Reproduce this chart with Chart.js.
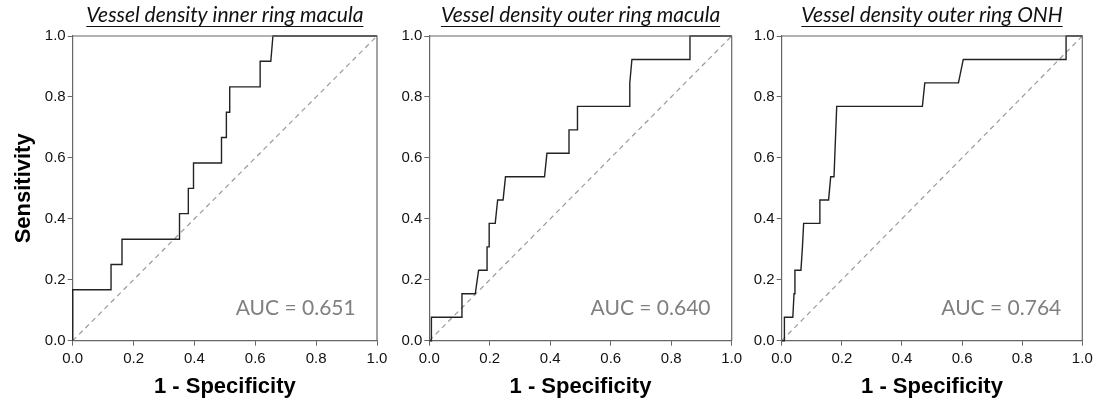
<!DOCTYPE html>
<html>
<head>
<meta charset="utf-8">
<script src="https://cdn.jsdelivr.net/npm/chart.js@4.4.0/dist/chart.umd.min.js"></script>
<style>
    body { margin: 0; background: #fff; }
    .panel { position: absolute; top: 0; height: 400px; }
</style>
</head>
<body>
<div class="panel" style="left:0;width:390px"><canvas id="roc1"></canvas></div>
<div class="panel" style="left:390px;width:354px"><canvas id="roc2"></canvas></div>
<div class="panel" style="left:744px;width:352px"><canvas id="roc3"></canvas></div>
<script>
// panel titles and AUC values
const titles = [
    'Vessel density inner ring macula',
    'Vessel density outer ring macula',
    'Vessel density outer ring ONH'
];
const aucLabels = ['AUC = 0.651', 'AUC = 0.640', 'AUC = 0.764'];
const tickValues = [0, 0.2, 0.4, 0.6, 0.8, 1.0];

// ROC curves (1 - specificity, sensitivity)
const fpr1 = [0, 0, 0.126, 0.126, 0.162, 0.162, 0.351, 0.351, 0.380, 0.380, 0.397, 0.397,
    0.489, 0.489, 0.505, 0.505, 0.516, 0.516, 0.616, 0.616, 0.651, 0.658, 1];
const tpr1 = [0, 0.167, 0.167, 0.25, 0.25, 0.333, 0.333, 0.417, 0.417, 0.5, 0.5, 0.583,
    0.583, 0.667, 0.667, 0.75, 0.75, 0.833, 0.833, 0.917, 0.917, 1, 1];

const fpr2 = [0, 0.007, 0.007, 0.108, 0.108, 0.152, 0.163, 0.191, 0.191, 0.198, 0.198, 0.218,
    0.226, 0.244, 0.252, 0.381, 0.389, 0.462, 0.462, 0.490, 0.490, 0.663, 0.663, 0.670,
    0.862, 0.862, 1];
const tpr2 = [0, 0, 0.077, 0.077, 0.154, 0.154, 0.231, 0.231, 0.308, 0.308, 0.385, 0.385,
    0.462, 0.462, 0.538, 0.538, 0.615, 0.615, 0.692, 0.692, 0.769, 0.769, 0.846, 0.923,
    0.923, 1, 1];

const fpr3 = [0, 0.009, 0.009, 0.037, 0.041, 0.044, 0.064, 0.069, 0.073, 0.127, 0.127, 0.156,
    0.163, 0.174, 0.183, 0.468, 0.476, 0.588, 0.604, 0.946, 0.946, 1];
const tpr3 = [0, 0, 0.077, 0.077, 0.154, 0.231, 0.231, 0.308, 0.385, 0.385, 0.462, 0.462,
    0.538, 0.538, 0.769, 0.769, 0.846, 0.846, 0.923, 0.923, 1, 1];

const curves = [[fpr1, tpr1], [fpr2, tpr2], [fpr3, tpr3]];

// axis widths so the three plot boxes line up like the original
const yAxisWidths = [72.7, 39.3, 37.7];
const rightPads = [13, 12.3, 13.7];

const toPoints = (xs, ys) => xs.map((x, i) => ({ x: x, y: ys[i] }));

// frame, underlined title and AUC text
const rocDecor = {
    id: 'rocDecor',
    afterDraw(chart, args, opts) {
        const ctx = chart.ctx;
        const a = chart.chartArea;
        const sx = chart.scales.x, sy = chart.scales.y;
        ctx.save();
        ctx.strokeStyle = '#666';
        ctx.lineWidth = 1.2;
        ctx.beginPath();
        ctx.moveTo(a.left, a.top);
        ctx.lineTo(a.right, a.top);
        ctx.lineTo(a.right, a.bottom);
        ctx.stroke();

        ctx.fillStyle = '#111';
        ctx.font = 'italic 21px Lato';
        ctx.textAlign = 'center';
        ctx.textBaseline = 'alphabetic';
        const cx = (a.left + a.right) / 2;
        ctx.fillText(opts.title, cx, 22);
        const w = ctx.measureText(opts.title).width;
        ctx.strokeStyle = '#111';
        ctx.lineWidth = 1;
        ctx.beginPath();
        ctx.moveTo(cx - w / 2, 26.5);
        ctx.lineTo(cx + w / 2, 26.5);
        ctx.stroke();

        ctx.fillStyle = '#808080';
        ctx.font = '21px Lato';
        ctx.textAlign = 'right';
        ctx.fillText(opts.auc, sx.getPixelForValue(0.93), sy.getPixelForValue(0.084));
        ctx.restore();
    }
};

titles.forEach((t, i) => {
    const ctx = document.getElementById('roc' + (i + 1)).getContext('2d');
    new Chart(ctx, {
        type: 'scatter',
        data: {
            datasets: [{
                data: toPoints(curves[i][0], curves[i][1]),
                showLine: true,
                borderColor: '#222',
                borderWidth: 1.4,
                pointRadius: 0,
                tension: 0,
                clip: 3
            }, {
                data: toPoints([0, 1], [0, 1]),
                showLine: true,
                borderColor: '#9a9a9a',
                borderWidth: 1.2,
                borderDash: [5, 4],
                pointRadius: 0,
                clip: 3
            }]
        },
        options: {
            responsive: true,
            maintainAspectRatio: false,
            animation: false,
            layout: {
                padding: { top: 36, right: rightPads[i], bottom: 0, left: 0 }
            },
            scales: {
                x: {
                    type: 'linear',
                    min: 0,
                    max: 1,
                    afterBuildTicks: (s) => { s.ticks = tickValues.map(v => ({ value: v })); },
                    afterFit: (s) => {
                        s.height = 59.3;
                        s.paddingLeft = 0;
                        s.paddingRight = 0;
                    },
                    border: { display: true, color: '#666', width: 1.2 },
                    grid: { drawOnChartArea: false, tickLength: 5, tickColor: '#666' },
                    ticks: {
                        padding: 4,
                        color: '#111',
                        font: { family: 'Liberation Sans', size: 15 },
                        callback: (v) => v.toFixed(1),
                        maxRotation: 0,
                        autoSkip: false
                    },
                    title: {
                        display: true,
                        text: '1 - Specificity',
                        color: '#000',
                        font: { family: 'Liberation Sans', size: 22, weight: 'bold' },
                        padding: { top: 0, bottom: 0 }
                    }
                },
                y: {
                    type: 'linear',
                    min: 0,
                    max: 1,
                    afterBuildTicks: (s) => { s.ticks = tickValues.map(v => ({ value: v })); },
                    afterFit: (s) => {
                        s.width = yAxisWidths[i];
                        s.paddingTop = 0;
                        s.paddingBottom = 0;
                    },
                    border: { display: true, color: '#666', width: 1.2 },
                    grid: { drawOnChartArea: false, tickLength: 5, tickColor: '#666' },
                    ticks: {
                        padding: 2,
                        color: '#111',
                        font: { family: 'Liberation Sans', size: 15 },
                        callback: (v) => v.toFixed(1),
                        autoSkip: false
                    },
                    title: {
                        display: i === 0,
                        text: 'Sensitivity',
                        color: '#000',
                        font: { family: 'Liberation Sans', size: 22, weight: 'bold' },
                        padding: { top: 11, bottom: 0 }
                    }
                }
            },
            plugins: {
                legend: { display: false },
                tooltip: { enabled: false },
                rocDecor: { title: t, auc: aucLabels[i] }
            }
        },
        plugins: [rocDecor]
    });
});
</script>
</body>
</html>
